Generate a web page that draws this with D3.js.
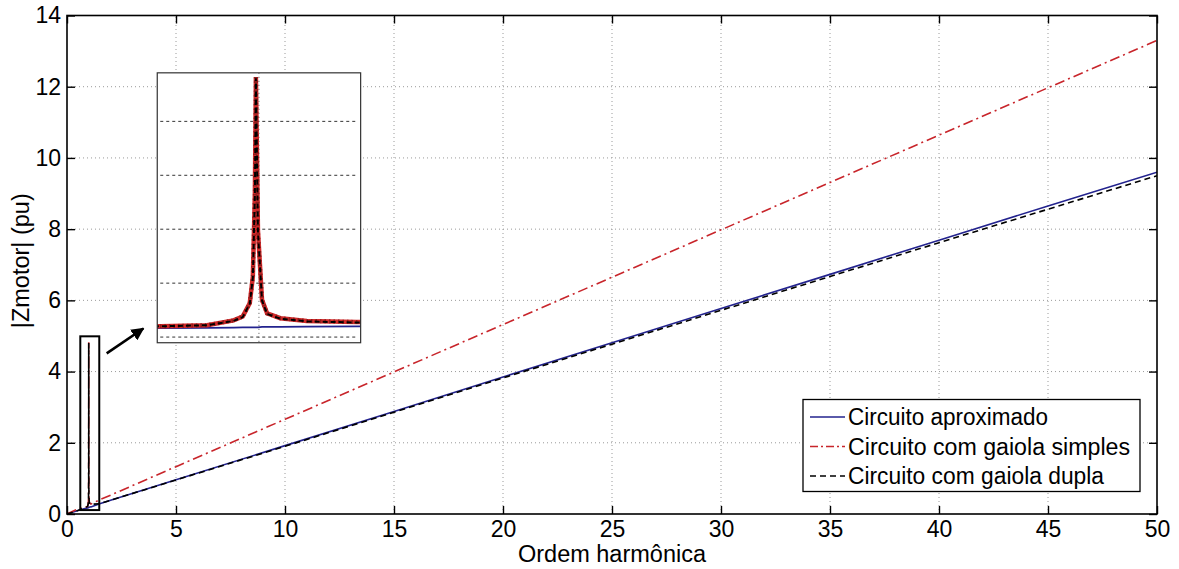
<!DOCTYPE html>
<html>
<head>
<meta charset="utf-8">
<script src="https://cdn.jsdelivr.net/npm/d3@7"></script>
<style>
  body { margin: 0; background: #fff; }
  text { font-family: "Liberation Sans", Arial, sans-serif; fill: #000; }
</style>
</head>
<body>
<svg id="chart" width="1179" height="569"></svg>
<script>
// harmonic order (x) and |Zmotor| in pu for the three models
const harmonic = [0, 0.5, 0.903, 0.949, 0.975, 0.984, 0.991, 0.994, 0.996, 0.997, 0.998, 0.999,
  1.003, 1.008, 1.021, 1.047, 1.096, 1.5, 2, 5, 10, 15, 20, 25, 30, 35, 40, 45, 50];
const zAprox = [0, 0.096, 0.165, 0.172, 0.176, 0.178, 0.18, 0.18, 0.181, 0.181, 0.181, 0.181,
  0.19, 0.19, 0.19, 0.195, 0.2, 0.29, 0.385, 0.96, 1.92, 2.88, 3.85, 4.81, 5.77, 6.73, 7.69, 8.65, 9.6];
const zSimples = [0, 0.14, 0.2, 0.22, 0.31, 0.38, 0.63, 1.12, 2.67, 4.82, 3.46, 1.98,
  0.69, 0.44, 0.35, 0.3, 0.28, 0.4, 0.53, 1.33, 2.66, 3.99, 5.32, 6.65, 7.98, 9.31, 10.64, 11.97, 13.3];
const zDupla = [0, 0.1, 0.2, 0.22, 0.3, 0.37, 0.62, 1.1, 2.65, 4.8, 3.44, 1.96,
  0.68, 0.43, 0.34, 0.29, 0.27, 0.29, 0.385, 0.955, 1.9, 2.86, 3.82, 4.77, 5.72, 6.67, 7.62, 8.56, 9.5];

const xTickValues = [0, 5, 10, 15, 20, 25, 30, 35, 40, 45, 50];
const yTickValues = [0, 2, 4, 6, 8, 10, 12, 14];
const insetGridValues = [0, 1, 2, 3, 4];
const insetXDomain = [0.9, 1.1];
const insetYDomain = [-0.105, 4.9];
const legendLabels = ["Circuito aproximado", "Circuito com gaiola simples", "Circuito com gaiola dupla"];

// zoom box around the resonance, arrow and inset placement (main-chart data units)
const zoomBox = { x0: 0.61, x1: 1.48, y0: 0.11, y1: 4.99 };
const arrow = { x0: 1.82, y0: 4.51, x1: 3.5, y1: 5.21 };
const insetBox = { x0: 4.14, x1: 13.47, y0: 4.81, y1: 12.39 };

const W = 1179, H = 569;
const margin = { top: 15.5, right: 22, bottom: 55, left: 67 };

const svg = d3.select("#chart");

const x = d3.scaleLinear().domain([0, 50]).range([margin.left, W - margin.right]);
const y = d3.scaleLinear().domain([0, 14]).range([H - margin.bottom, margin.top]);

const series = [
  { name: legendLabels[0], values: zAprox, color: "#23238e", dash: null },
  { name: legendLabels[1], values: zSimples, color: "#c8252b", dash: "10,4,2,4" },
  { name: legendLabels[2], values: zDupla, color: "#000", dash: "6,4" }
];

svg.append("defs").append("clipPath").attr("id", "plotClip")
  .append("rect")
  .attr("x", x(0)).attr("y", y(14))
  .attr("width", x(50) - x(0)).attr("height", y(0) - y(14));

// grid
const grid = svg.append("g").attr("stroke", "#9a9a9a").attr("stroke-dasharray", "1,3").attr("stroke-width", 1);
grid.selectAll(".gx").data(xTickValues.slice(1, -1)).join("line")
  .attr("x1", d => x(d)).attr("x2", d => x(d))
  .attr("y1", y(0)).attr("y2", y(14));
grid.selectAll(".gy").data(yTickValues.slice(1, -1)).join("line")
  .attr("x1", x(0)).attr("x2", x(50))
  .attr("y1", d => y(d)).attr("y2", d => y(d));

// main curves
const line = d3.line().x((d, i) => x(harmonic[i])).y(d => y(d));
const plot = svg.append("g").attr("clip-path", "url(#plotClip)");
series.forEach(s => {
  plot.append("path")
    .attr("d", line(s.values))
    .attr("fill", "none")
    .attr("stroke", s.color)
    .attr("stroke-width", 1.6)
    .attr("stroke-dasharray", s.dash);
});

// rectangle around the resonance peak
svg.append("rect")
  .attr("x", x(zoomBox.x0)).attr("y", y(zoomBox.y1))
  .attr("width", x(zoomBox.x1) - x(zoomBox.x0))
  .attr("height", y(zoomBox.y0) - y(zoomBox.y1))
  .attr("fill", "none").attr("stroke", "#000").attr("stroke-width", 2);

// arrow
svg.select("defs").append("marker")
  .attr("id", "arrowHead")
  .attr("viewBox", "0 0 10 10").attr("refX", 9).attr("refY", 5)
  .attr("markerWidth", 5).attr("markerHeight", 5)
  .attr("markerUnits", "strokeWidth")
  .attr("orient", "auto")
  .append("path").attr("d", "M0,0 L10,5 L0,10 z").attr("fill", "#000");
svg.append("line")
  .attr("x1", x(arrow.x0)).attr("y1", y(arrow.y0))
  .attr("x2", x(arrow.x1)).attr("y2", y(arrow.y1))
  .attr("stroke", "#000").attr("stroke-width", 2.6)
  .attr("marker-end", "url(#arrowHead)");

// inset with the zoomed resonance
const ix = d3.scaleLinear().domain(insetXDomain).range([x(insetBox.x0), x(insetBox.x1)]);
const iy = d3.scaleLinear().domain(insetYDomain).range([y(insetBox.y0), y(insetBox.y1)]);
svg.select("defs").append("clipPath").attr("id", "insetClip")
  .append("rect")
  .attr("x", ix.range()[0]).attr("y", iy.range()[1])
  .attr("width", ix.range()[1] - ix.range()[0])
  .attr("height", iy.range()[0] - iy.range()[1]);

const inset = svg.append("g");
inset.append("rect")
  .attr("x", ix.range()[0]).attr("y", iy.range()[1])
  .attr("width", ix.range()[1] - ix.range()[0])
  .attr("height", iy.range()[0] - iy.range()[1])
  .attr("fill", "#fff");
inset.selectAll(".ig").data(insetGridValues).join("line")
  .attr("x1", ix.range()[0] + 3).attr("x2", ix.range()[1] - 3)
  .attr("y1", d => iy(d)).attr("y2", d => iy(d))
  .attr("stroke", "#333").attr("stroke-width", 1).attr("stroke-dasharray", "3,3");
inset.append("line")
  .attr("x1", ix(1)).attr("x2", ix(1))
  .attr("y1", iy.range()[1]).attr("y2", iy.range()[0])
  .attr("stroke", "#555").attr("stroke-width", 1).attr("stroke-dasharray", "1,3");

const insetLine = d3.line().x((d, i) => ix(harmonic[i])).y(d => iy(d));
const insetPlot = inset.append("g").attr("clip-path", "url(#insetClip)");
insetPlot.append("path").attr("d", insetLine(zAprox))
  .attr("fill", "none").attr("stroke", "#23238e").attr("stroke-width", 1.8);
insetPlot.append("path").attr("d", insetLine(zSimples))
  .attr("fill", "none").attr("stroke", "#d12a2a").attr("stroke-width", 4.5);
insetPlot.append("path").attr("d", insetLine(zSimples))
  .attr("fill", "none").attr("stroke", "#8e1c1c").attr("stroke-width", 4)
  .attr("stroke-dasharray", "1.5,3");
insetPlot.append("path").attr("d", insetLine(zDupla))
  .attr("fill", "none").attr("stroke", "#000").attr("stroke-width", 2)
  .attr("stroke-dasharray", "5,3");
inset.append("rect")
  .attr("x", ix.range()[0]).attr("y", iy.range()[1])
  .attr("width", ix.range()[1] - ix.range()[0])
  .attr("height", iy.range()[0] - iy.range()[1])
  .attr("fill", "none").attr("stroke", "#333").attr("stroke-width", 1.2);

// axes: ticks inside on all four sides
const tickLen = 8;
const xAxis = svg.append("g").attr("transform", `translate(0,${y(0)})`)
  .call(d3.axisBottom(x).tickValues(xTickValues).tickSize(-tickLen).tickPadding(tickLen + 8));
const yAxis = svg.append("g").attr("transform", `translate(${x(0)},0)`)
  .call(d3.axisLeft(y).tickValues(yTickValues).tickSize(-tickLen).tickPadding(tickLen + 4));
const xTop = svg.append("g").attr("transform", `translate(0,${y(14)})`)
  .call(d3.axisTop(x).tickValues(xTickValues).tickSize(-tickLen).tickFormat(""));
const yRight = svg.append("g").attr("transform", `translate(${x(50)},0)`)
  .call(d3.axisRight(y).tickValues(yTickValues).tickSize(-tickLen).tickFormat(""));
[xAxis, yAxis, xTop, yRight].forEach(g => {
  g.select(".domain").remove();
  g.selectAll(".tick line").attr("stroke", "#000").attr("stroke-width", 1.4);
  g.selectAll(".tick text").attr("font-size", 23).attr("font-family", "Liberation Sans, Arial, sans-serif");
});
xAxis.selectAll(".tick text").attr("dy", "0.71em").attr("y", 7);
yAxis.selectAll(".tick text").attr("x", -6);

// plot frame
svg.append("rect")
  .attr("x", x(0)).attr("y", y(14))
  .attr("width", x(50) - x(0)).attr("height", y(0) - y(14))
  .attr("fill", "none").attr("stroke", "#000").attr("stroke-width", 1.6);

// axis titles
svg.append("text")
  .attr("x", (x(0) + x(50)) / 2).attr("y", 562)
  .attr("text-anchor", "middle").attr("font-size", 23.5)
  .text("Ordem harmônica");
svg.append("text")
  .attr("transform", `translate(29,${(y(0) + y(14)) / 2 - 4}) rotate(-90)`)
  .attr("text-anchor", "middle").attr("font-size", 23.5)
  .text("|Zmotor| (pu)");

// legend
const legend = svg.append("g");
legend.append("rect")
  .attr("x", 803).attr("y", 399.5).attr("width", 337).attr("height", 92)
  .attr("fill", "#fff").attr("stroke", "#000").attr("stroke-width", 1.3);
const rows = legend.selectAll(".row").data(series).join("g")
  .attr("transform", (d, i) => `translate(810,${417 + i * 29.5})`);
rows.append("line")
  .attr("x1", 0).attr("x2", 35).attr("y1", 0).attr("y2", 0)
  .attr("stroke", d => d.color).attr("stroke-width", 1.6)
  .attr("stroke-dasharray", (d, i) => i === 1 ? "8,3,2,3" : (i === 2 ? "6,4" : null));
rows.append("text")
  .attr("x", 38).attr("dy", "0.36em")
  .attr("font-size", 23)
  .attr("textLength", (d, i) => [200, 282, 256][i])
  .attr("lengthAdjust", "spacingAndGlyphs")
  .text(d => d.name);
</script>
</body>
</html>
